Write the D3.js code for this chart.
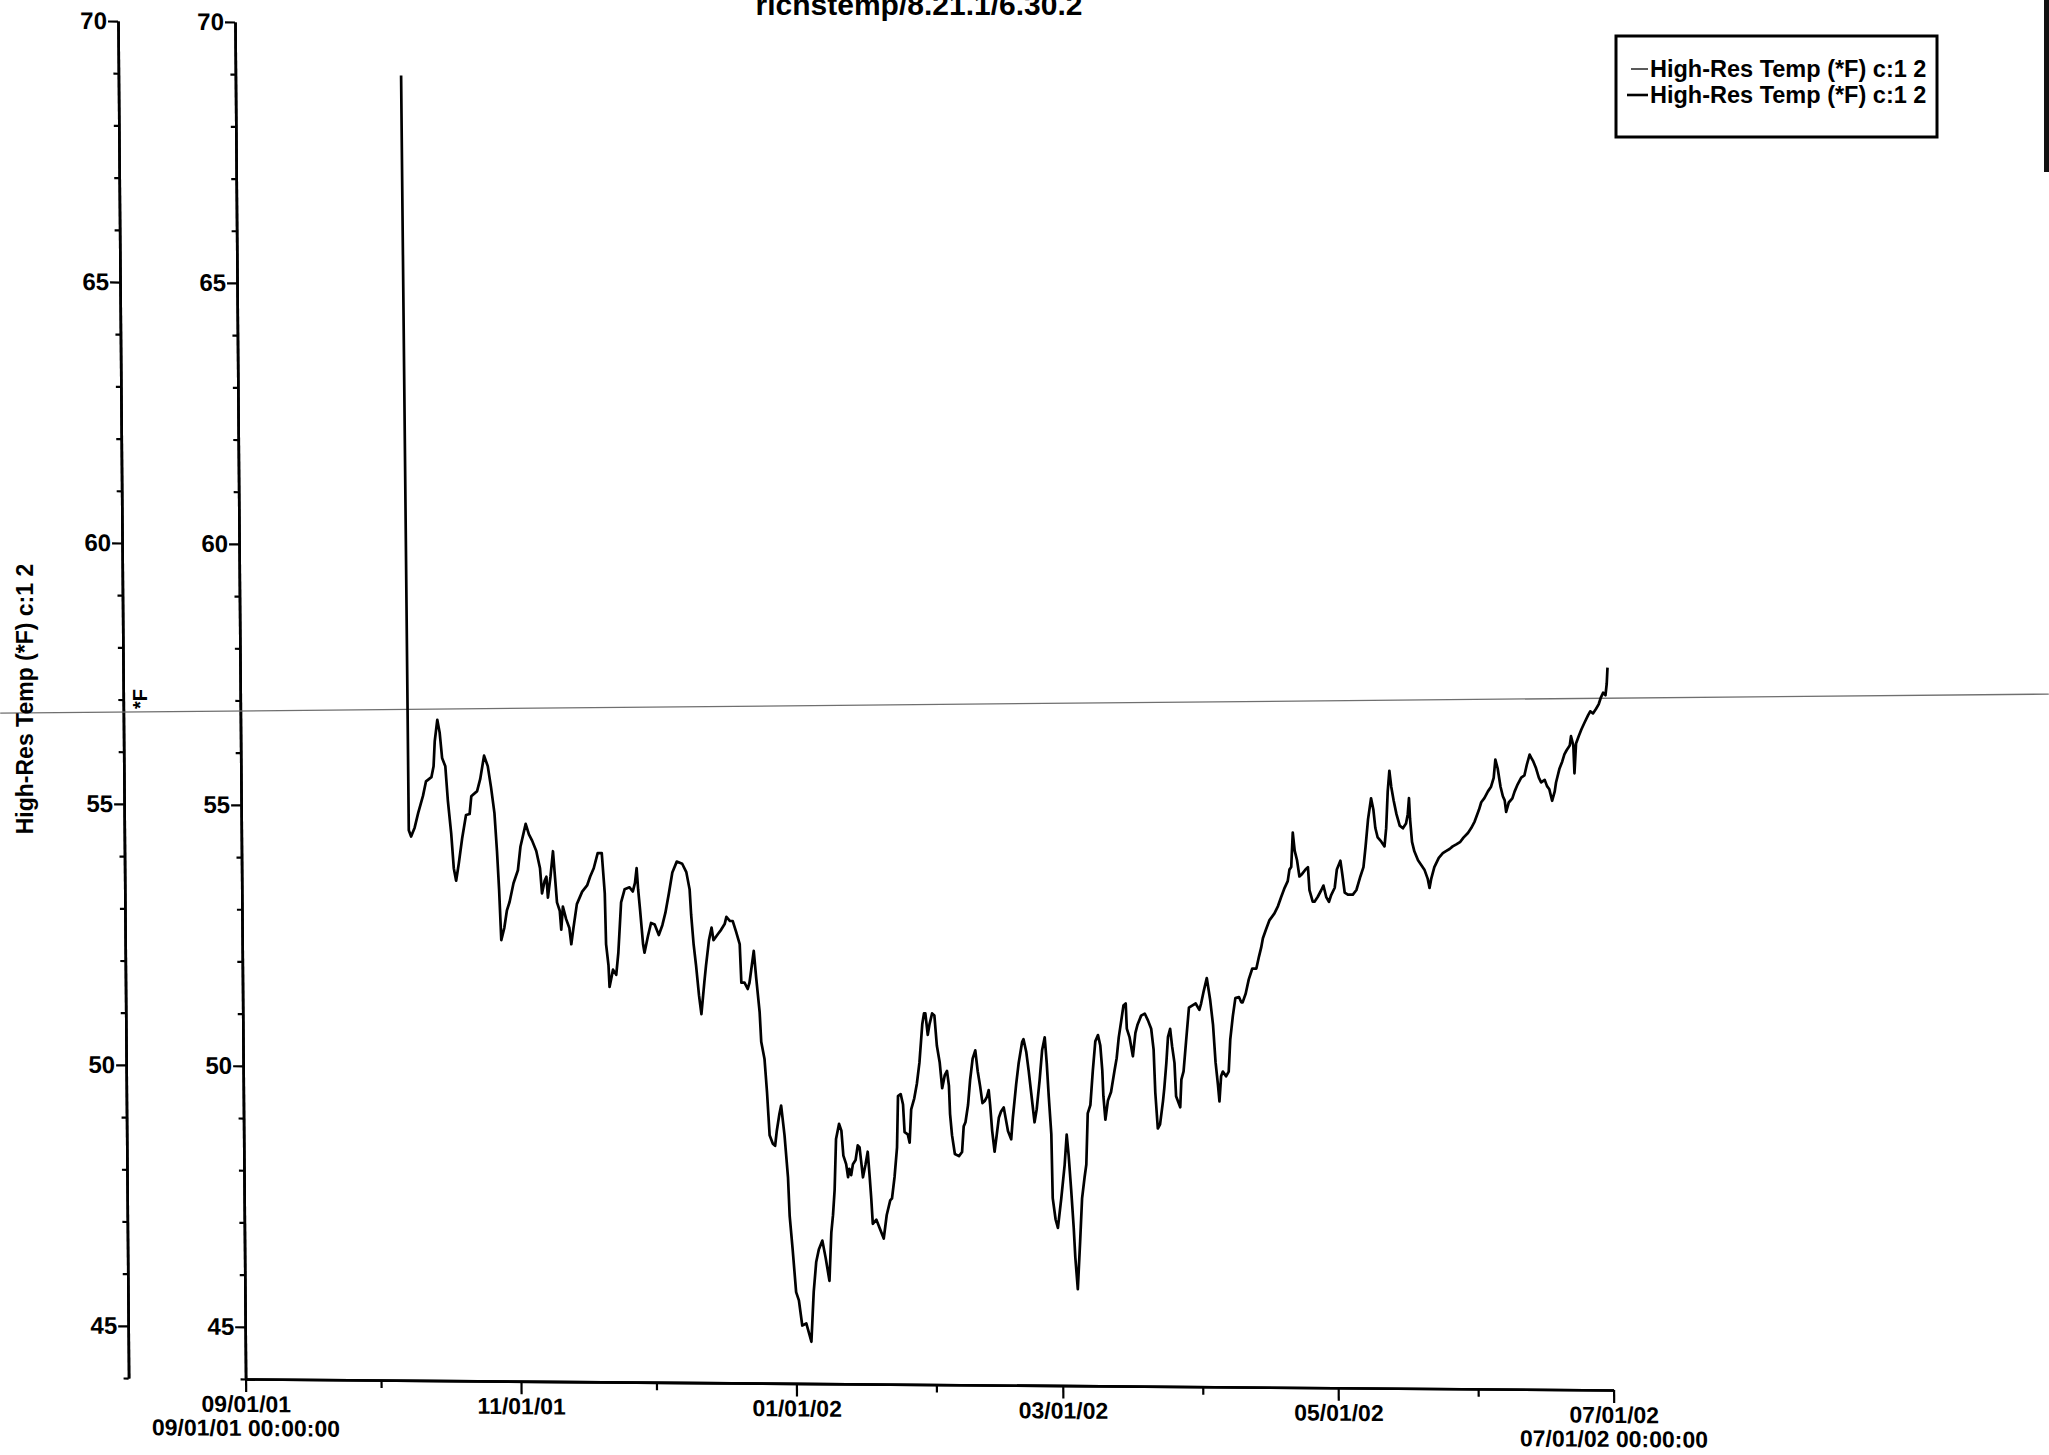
<!DOCTYPE html>
<html>
<head>
<meta charset="utf-8">
<script src="https://cdn.jsdelivr.net/npm/d3@7"></script>
<style>
  body { margin: 0; background: #fff; }
  svg { display: block; }
</style>
</head>
<body>
<script>
// data: days elapsed since 09/01/01 00:00 and temperature in F
var startDate = "2001-09-01";

var elapsedDays = [
  36.7, 37.1, 37.6, 38.4, 39.2, 40.3, 41.0, 42.2, 42.7, 43.0, 43.6, 44.1, 44.6, 45.3, 45.8, 46.5, 47.0, 47.5, 48.1, 48.9,
  49.8, 50.6, 51.0, 52.3, 53.0, 53.9, 54.7, 55.4, 56.1, 56.6, 57.0, 57.4, 58.1, 58.7, 59.3, 60.2, 61.2, 61.8, 63.0, 63.7,
  64.4, 65.3, 66.1, 66.5, 67.1, 67.5, 67.8, 68.4, 69.0, 69.4, 69.8, 70.4, 70.7, 71.1, 71.8, 72.5, 72.9, 73.4, 74.2, 75.4,
  76.5, 77.2, 78.0, 78.9, 79.8, 80.4, 80.6, 81.1, 81.3, 82.1, 82.8, 83.3, 84.0, 84.8, 85.9, 86.6, 87.1, 87.5, 87.8, 88.2,
  88.8, 89.1, 89.9, 90.6, 91.4, 92.3, 93.1, 93.8, 94.6, 95.4, 96.4, 97.6, 98.5, 99.2, 99.5, 100.0, 100.5, 101.1, 101.6, 102.3,
  102.7, 103.4, 104.0, 104.4, 105.4, 106.1, 106.9, 107.3, 108.1, 108.7, 109.4, 110.2, 110.5, 111.2, 111.9, 112.3, 113.3, 113.8, 114.5, 114.8,
  115.5, 116.0, 116.5, 117.2, 117.7, 118.1, 118.7, 119.1, 119.8, 120.5, 120.8, 121.4, 122.1, 122.7, 123.4, 124.3, 125.4, 126.0, 126.6, 127.2,
  128.0, 128.7, 129.5, 130.0, 130.4, 130.8, 131.2, 131.9, 132.4, 132.8, 133.4, 133.8, 134.1, 134.5, 134.9, 135.5, 136.0, 136.4, 136.7, 137.1,
  137.7, 138.2, 138.6, 138.9, 139.2, 140.0, 140.7, 141.6, 142.3, 143.1, 143.5, 144.1, 144.7, 145.0, 145.6, 146.1, 146.4, 147.1, 147.5, 147.9,
  148.6, 149.2, 149.8, 150.5, 150.9, 151.2, 151.7, 152.1, 152.7, 153.2, 153.7, 154.3, 154.8, 155.4, 155.9, 156.3, 156.5, 156.9, 157.5, 158.4,
  159.1, 159.5, 159.9, 160.5, 161.0, 161.6, 162.2, 162.7, 163.2, 163.7, 164.2, 164.7, 165.1, 165.4, 165.8, 166.3, 166.8, 167.3, 167.8, 168.4,
  168.8, 169.3, 170.0, 170.4, 171.2, 171.8, 172.6, 172.9, 173.5, 174.0, 174.5, 175.2, 175.7, 176.4, 177.0, 177.6, 178.0, 178.4, 178.9, 179.1,
  179.7, 180.2, 181.0, 181.8, 182.3, 182.7, 183.2, 183.7, 184.0, 184.5, 185.1, 185.6, 186.2, 186.6, 187.0, 187.6, 188.2, 188.8, 189.4, 189.9,
  190.3, 190.5, 190.9, 191.5, 192.2, 193.0, 193.5, 194.0, 194.6, 195.1, 195.6, 195.8, 196.4, 197.1, 197.7, 198.2, 199.0, 199.8, 200.5, 201.2,
  201.7, 202.0, 202.5, 203.0, 203.7, 204.0, 204.5, 204.9, 205.4, 205.8, 206.3, 206.6, 207.5, 207.8, 208.3, 208.9, 209.6, 210.3, 211.1, 211.9,
  212.3, 212.9, 213.6, 214.3, 214.9, 215.4, 215.9, 216.2, 216.6, 217.0, 217.7, 218.3, 218.7, 219.3, 219.9, 220.7, 221.2, 221.5, 222.2, 222.9,
  223.7, 224.6, 225.2, 225.7, 226.1, 226.8, 227.6, 228.7, 229.5, 230.2, 231.0, 231.7, 232.1, 232.5, 232.9, 233.3, 233.8, 234.3, 234.9, 235.7,
  236.2, 236.5, 237.2, 237.6, 238.3, 239.1, 239.6, 240.2, 240.8, 241.3, 242.1, 242.6, 243.4, 243.8, 244.3, 245.0, 246.1, 246.9, 247.8, 248.5,
  249.0, 249.6, 250.3, 250.8, 251.2, 251.7, 252.5, 253.2, 253.6, 254.0, 254.4, 254.8, 255.3, 255.9, 256.6, 257.3, 258.0, 258.4, 258.7, 258.9,
  259.3, 259.8, 260.6, 261.3, 262.0, 262.7, 263.1, 263.5, 264.2, 265.2, 266.1, 266.8, 267.6, 268.3, 269.1, 270.0, 270.7, 271.7, 272.4, 273.2,
  274.2, 274.7, 275.4, 276.2, 276.9, 277.5, 277.9, 278.4, 279.0, 279.5, 279.9, 280.2, 280.8, 281.6, 282.1, 282.8, 283.6, 284.3, 284.9, 285.5,
  285.8, 286.3, 286.9, 287.5, 288.0, 288.8, 289.3, 289.8, 290.4, 291.0, 291.3, 292.1, 292.7, 293.2, 293.7, 294.4, 294.7, 295.2, 295.4, 295.8,
  296.4, 297.0, 297.7, 298.5, 299.0, 299.6, 300.3, 300.9, 301.4, 301.9, 302.4, 302.7, 302.9
];

var tempF = [
  69.0, 54.54, 54.42, 54.59, 54.87, 55.20, 55.48, 55.56, 55.77, 56.25, 56.66, 56.42, 55.93, 55.77, 55.12, 54.47, 53.82, 53.58, 53.90, 54.39,
  54.84, 54.86, 55.20, 55.30, 55.53, 55.98, 55.78, 55.37, 54.88, 54.15, 53.42, 52.45, 52.69, 53.02, 53.18, 53.54, 53.79, 54.24, 54.68, 54.48,
  54.36, 54.16, 53.83, 53.35, 53.59, 53.67, 53.27, 53.67, 54.16, 53.67, 53.18, 53.02, 52.66, 53.10, 52.86, 52.69, 52.38, 52.69, 53.15, 53.39,
  53.51, 53.68, 53.84, 54.13, 54.13, 53.36, 52.39, 51.98, 51.57, 51.90, 51.80, 52.22, 53.19, 53.44, 53.48, 53.40, 53.56, 53.85, 53.44, 53.04,
  52.39, 52.23, 52.55, 52.80, 52.77, 52.57, 52.76, 53.00, 53.37, 53.77, 53.98, 53.94, 53.78, 53.45, 52.96, 52.39, 51.99, 51.42, 51.06, 51.67,
  51.99, 52.48, 52.72, 52.48, 52.60, 52.68, 52.79, 52.93, 52.85, 52.85, 52.65, 52.41, 51.67, 51.67, 51.55, 51.67, 52.28, 51.76, 51.11, 50.54,
  50.21, 49.57, 48.75, 48.59, 48.55, 48.84, 49.16, 49.32, 48.75, 47.94, 47.21, 46.57, 45.75, 45.59, 45.11, 45.15, 44.80, 45.76, 46.33, 46.57,
  46.74, 46.41, 45.97, 46.90, 47.23, 47.71, 48.69, 48.98, 48.85, 48.37, 48.21, 47.96, 48.12, 48.00, 48.21, 48.29, 48.57, 48.53, 48.29, 47.96,
  48.21, 48.45, 47.96, 47.56, 47.07, 47.15, 46.99, 46.79, 47.24, 47.52, 47.56, 47.97, 48.54, 49.52, 49.56, 49.36, 48.83, 48.79, 48.63, 49.27,
  49.48, 49.76, 50.16, 50.90, 51.11, 51.11, 50.70, 50.90, 51.11, 51.07, 50.49, 50.17, 49.68, 49.93, 50.01, 49.73, 49.19, 48.78, 48.42, 48.38,
  48.46, 48.95, 49.03, 49.36, 49.84, 50.25, 50.41, 50.01, 49.73, 49.40, 49.44, 49.52, 49.65, 49.36, 48.87, 48.47, 48.79, 49.12, 49.24, 49.32,
  49.12, 48.87, 48.71, 49.12, 49.77, 50.18, 50.58, 50.63, 50.38, 50.02, 49.61, 49.04, 49.29, 49.85, 50.42, 50.67, 50.18, 49.53, 48.81, 47.59,
  47.18, 47.02, 47.59, 48.23, 48.81, 48.41, 47.75, 47.02, 46.46, 45.85, 46.77, 47.59, 48.00, 48.24, 49.22, 49.38, 50.04, 50.60, 50.72, 50.52,
  50.04, 49.55, 49.10, 49.47, 49.63, 50.04, 50.28, 50.68, 51.01, 51.29, 51.33, 50.85, 50.68, 50.32, 50.77, 50.93, 51.10, 51.14, 51.01, 50.85,
  50.45, 49.63, 48.94, 49.02, 49.47, 49.71, 50.20, 50.69, 50.85, 50.52, 50.20, 49.56, 49.35, 49.88, 50.04, 50.61, 51.26, 51.30, 51.34, 51.22,
  51.34, 51.58, 51.83, 51.42, 50.94, 50.22, 49.78, 49.47, 49.95, 50.04, 49.95, 50.04, 50.66, 51.10, 51.45, 51.47, 51.37, 51.37, 51.54, 51.81,
  52.02, 52.02, 52.25, 52.42, 52.60, 52.77, 52.95, 53.08, 53.22, 53.39, 53.57, 53.70, 53.92, 53.97, 54.63, 54.28, 54.10, 53.79, 53.84, 53.93,
  53.97, 53.53, 53.31, 53.31, 53.40, 53.53, 53.62, 53.40, 53.31, 53.44, 53.58, 53.93, 54.10, 53.84, 53.49, 53.45, 53.45, 53.54, 53.80, 53.98,
  54.37, 54.90, 55.30, 55.08, 54.73, 54.55, 54.47, 54.38, 54.73, 55.43, 55.83, 55.52, 55.26, 55.00, 54.78, 54.73, 54.82, 55.00, 55.31, 54.91,
  54.47, 54.29, 54.12, 54.03, 53.94, 53.77, 53.59, 53.77, 53.99, 54.17, 54.26, 54.30, 54.34, 54.39, 54.43, 54.48, 54.56, 54.65, 54.74, 54.87,
  55.10, 55.24, 55.32, 55.45, 55.54, 55.71, 56.06, 55.89, 55.54, 55.36, 55.28, 55.06, 55.24, 55.32, 55.45, 55.59, 55.72, 55.76, 55.98, 56.16,
  56.11, 56.03, 55.90, 55.72, 55.63, 55.68, 55.56, 55.50, 55.28, 55.46, 55.63, 55.90, 56.03, 56.17, 56.25, 56.34, 56.52, 56.34, 55.81, 56.38,
  56.52, 56.65, 56.78, 56.92, 57.00, 56.96, 57.05, 57.14, 57.27, 57.36, 57.31, 57.53, 57.84
];

// the faint first trace that runs right across the sheet
var series1Days = [-53.2, 400.6];
var series1Temp = [56.72, 57.40];

var yMajorTicks = [45, 50, 55, 60, 65, 70];
var yMinorTicks = [44, 46, 47, 48, 49, 51, 52, 53, 54, 56, 57, 58, 59, 61, 62, 63, 64, 66, 67, 68, 69];
var xMajorDates = ["2001-09-01", "2001-11-01", "2002-01-01", "2002-03-01", "2002-05-01", "2002-07-01"];
var xMinorDates = ["2001-10-01", "2001-12-01", "2002-02-01", "2002-04-01", "2002-06-01"];
var xEndLabels = ["09/01/01 00:00:00", "07/01/02 00:00:00"];

var chartTitle = "richstemp/8.21.1/6.30.2";
var seriesName = "High-Res Temp (*F) c:1 2";
var unitLabel = "*F";

var width = 2049,
    height = 1455;

var parseDay = d3.utcParse("%Y-%m-%d");
var t0 = parseDay(startDate);

function dayToDate(d) {
  return new Date(t0.getTime() + d * 864e5);
}

var points = elapsedDays.map(function(d, i) { return {date: dayToDate(d), value: tempF[i]}; });
var series1 = series1Days.map(function(d, i) { return {date: dayToDate(d), value: series1Temp[i]}; });

var svg = d3.select("body").append("svg")
    .attr("width", width)
    .attr("height", height)
    .style("font-family", "'Liberation Sans', Arial, sans-serif");

// the scanned sheet is slightly sheared, so the plot area is too
var plot = svg.append("g")
    .attr("transform", "translate(235,22) matrix(1,0.008,0.0078,1,0,0) translate(-235,-22)");

var x = d3.scaleUtc()
    .domain([parseDay(xMajorDates[0]), parseDay(xMajorDates[xMajorDates.length - 1])])
    .range([235, 1603]);

var y = d3.scaleLinear()
    .domain([44, 70])
    .range([1379, 22]);

function styleAxis(g, fontSize) {
  g.select(".domain").attr("stroke", "#000").attr("stroke-width", 2.6);
  g.selectAll(".tick line").attr("stroke", "#000").attr("stroke-width", 2.2);
  g.selectAll(".tick text")
      .attr("fill", "#000")
      .style("font-size", fontSize + "px")
      .style("font-weight", "bold");
}

function drawYAxis(xPos) {
  var minor = plot.append("g").attr("transform", "translate(" + xPos + ",0)")
      .call(d3.axisLeft(y).tickValues(yMinorTicks).tickSize(5).tickSizeOuter(0).tickFormat(""));
  styleAxis(minor, 24);
  var major = plot.append("g").attr("transform", "translate(" + xPos + ",0)")
      .call(d3.axisLeft(y).tickValues(yMajorTicks).tickSize(10).tickSizeOuter(0).tickPadding(1));
  styleAxis(major, 24);
}

drawYAxis(118);
drawYAxis(235);

var xMinor = plot.append("g").attr("transform", "translate(0,1379)")
    .call(d3.axisBottom(x).tickValues(xMinorDates.map(parseDay)).tickSize(8).tickSizeOuter(0).tickFormat(""));
styleAxis(xMinor, 23);

var xMajor = plot.append("g").attr("transform", "translate(0,1379)")
    .call(d3.axisBottom(x).tickValues(xMajorDates.map(parseDay)).tickSize(13).tickSizeOuter(0)
      .tickFormat(d3.utcFormat("%m/%d/%y")));
styleAxis(xMajor, 23);
xMajor.selectAll(".tick text").attr("y", 33).attr("dy", 0);

plot.selectAll(".end-label")
    .data([xMajorDates[0], xMajorDates[xMajorDates.length - 1]])
    .enter().append("text")
    .attr("class", "end-label")
    .attr("x", function(d) { return x(parseDay(d)); })
    .attr("y", 1379 + 57)
    .attr("text-anchor", "middle")
    .style("font-size", "23px")
    .style("font-weight", "bold")
    .text(function(d, i) { return xEndLabels[i]; });

var line = d3.line()
    .x(function(d) { return x(d.date); })
    .y(function(d) { return y(d.value); });

plot.append("path")
    .datum(series1)
    .attr("fill", "none")
    .attr("stroke", "#6f6f6f")
    .attr("stroke-width", 1.3)
    .attr("d", line);

plot.append("path")
    .datum(points)
    .attr("fill", "none")
    .attr("stroke", "#000")
    .attr("stroke-width", 2.7)
    .attr("stroke-linejoin", "round")
    .attr("d", line);

// title, half cut off by the top edge of the page as on the scan
svg.append("text")
    .attr("x", 919)
    .attr("y", 15)
    .attr("text-anchor", "middle")
    .style("font-size", "30px")
    .style("font-weight", "bold")
    .text(chartTitle);

svg.append("text")
    .attr("transform", "translate(25,699) rotate(-90)")
    .attr("text-anchor", "middle")
    .attr("dominant-baseline", "central")
    .style("font-size", "23px")
    .style("font-weight", "bold")
    .text(seriesName);

svg.append("text")
    .attr("transform", "translate(140,699) rotate(-90)")
    .attr("text-anchor", "middle")
    .attr("dominant-baseline", "central")
    .style("font-size", "20px")
    .style("font-weight", "bold")
    .text(unitLabel);

// legend
var legend = svg.append("g");
legend.append("rect")
    .attr("x", 1616).attr("y", 36)
    .attr("width", 321).attr("height", 101)
    .attr("fill", "#fff")
    .attr("stroke", "#000")
    .attr("stroke-width", 3);

var legendRows = legend.selectAll(".row")
    .data([1.3, 2.6])
    .enter().append("g")
    .attr("class", "row")
    .attr("transform", function(d, i) { return "translate(0," + (69 + i * 26) + ")"; });

legendRows.append("line")
    .attr("x1", function(d, i) { return i === 0 ? 1631 : 1627; })
    .attr("x2", 1648)
    .attr("stroke", "#000")
    .attr("stroke-width", function(d) { return d; });

legendRows.append("text")
    .attr("x", 1650)
    .attr("y", 8)
    .style("font-size", "23.5px")
    .style("font-weight", "bold")
    .text(seriesName);

// dark scan edge on the right
svg.append("rect")
    .attr("x", 2044).attr("y", 0)
    .attr("width", 5).attr("height", 172)
    .attr("fill", "#111");
</script>
</body>
</html>
